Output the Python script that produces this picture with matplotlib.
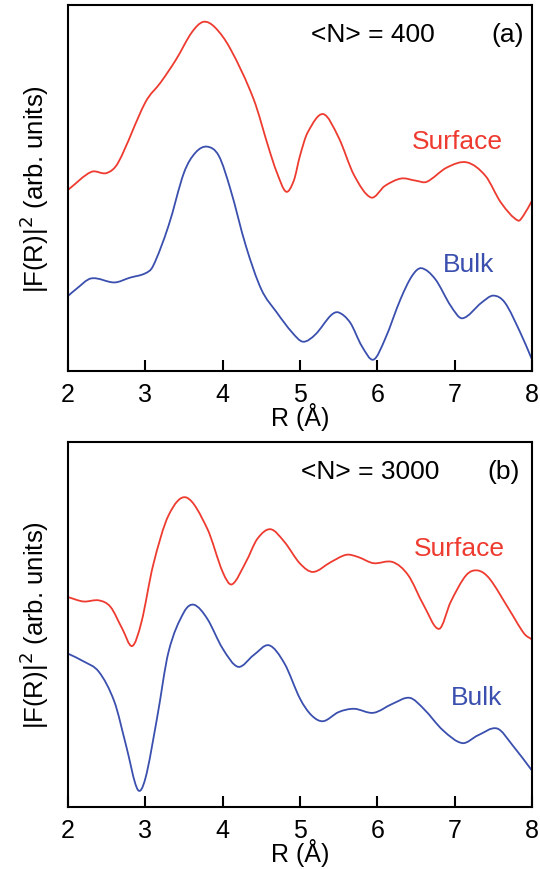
import matplotlib
matplotlib.use("Agg")
import matplotlib.pyplot as plt
from matplotlib.path import Path
from matplotlib.patches import PathPatch

plt.rcParams['font.family'] = ['Liberation Sans', 'DejaVu Sans']

# panel (a), <N> = 400
r_surf_a = [2.0, 2.3, 2.5, 2.65, 3.0, 3.2, 3.4, 3.6, 3.75, 3.9, 4.1, 4.4, 4.6, 4.7, 4.82, 4.92,
            5.0, 5.1, 5.3, 5.5, 5.7, 5.92, 6.1, 6.31, 6.5, 6.64, 6.9, 7.16, 7.4, 7.6, 7.82, 7.9, 8.0]
surf_a = [49.5, 54.4, 54.1, 57.0, 73.4, 78.9, 85.2, 92.5, 95.4, 93.9, 88.0, 74.3, 60.6, 54.3, 49.0, 52.0,
          58.8, 65.2, 70.2, 63.8, 53.5, 47.4, 50.6, 52.6, 52.0, 51.7, 55.6, 57.0, 53.3, 46.0, 41.1, 42.8, 46.5]

r_bulk_a = [2.0, 2.1, 2.3, 2.6, 2.8, 3.0, 3.1, 3.3, 3.5, 3.65, 3.8, 3.95, 4.1, 4.3, 4.5, 4.7,
            4.9, 5.04, 5.2, 5.4, 5.5, 5.65, 5.8, 5.95, 6.1, 6.3, 6.45, 6.57, 6.75, 6.95, 7.1,
            7.35, 7.5, 7.65, 7.85, 8.0]
bulk_a = [20.5, 22.3, 25.3, 24.2, 25.5, 26.7, 28.7, 39.7, 54.2, 59.7, 61.3, 58.8, 49.7, 34.2, 22.3, 16.0,
          10.5, 8.0, 10.0, 15.2, 16.0, 13.2, 6.8, 3.1, 8.7, 19.6, 26.0, 28.1, 25.1, 17.8, 14.4,
          18.7, 20.6, 18.7, 10.5, 3.2]

# panel (b), <N> = 3000
r_surf_b = [2.0, 2.2, 2.4, 2.55, 2.7, 2.83, 2.95, 3.1, 3.3, 3.53, 3.8, 4.0, 4.12, 4.3, 4.45,
            4.62, 4.8, 5.0, 5.17, 5.4, 5.6, 5.75, 5.95, 6.2, 6.4, 6.6, 6.8, 6.95, 7.15, 7.3,
            7.45, 7.7, 7.9, 8.0]
surf_b = [57.5, 56.3, 56.6, 54.8, 48.9, 44.1, 50.7, 66.2, 79.9, 84.8, 76.3, 64.4, 61.0, 67.1, 73.5,
          76.1, 72.6, 66.7, 64.4, 67.1, 69.1, 68.5, 66.8, 67.1, 63.5, 55.3, 48.8, 56.2, 63.5, 64.8,
          62.6, 54.3, 47.5, 45.9]

r_bulk_b = [2.0, 2.2, 2.4, 2.6, 2.75, 2.9, 3.0, 3.15, 3.3, 3.5, 3.63, 3.8, 4.0, 4.2, 4.4, 4.6,
            4.8, 5.0, 5.15, 5.3, 5.5, 5.7, 5.95, 6.2, 6.42, 6.6, 6.85, 7.1, 7.3, 7.55, 7.75, 8.0]
bulk_b = [42.0, 39.9, 37.0, 28.8, 16.9, 4.8, 7.8, 24.2, 42.5, 53.4, 55.4, 51.6, 43.4, 38.4, 41.6, 44.3,
          39.3, 29.7, 25.1, 23.5, 26.0, 26.9, 25.8, 28.3, 29.9, 26.9, 21.0, 17.5, 19.6, 21.5, 16.9, 10.0]

red = '#ee3b30'
blue = '#3a4fae'


def smooth_path(x, y):
    # cubic hermite through the points (slopes from neighbours), as bezier segments
    n = len(x)
    m = []
    for i in range(n):
        a = max(i - 1, 0)
        b = min(i + 1, n - 1)
        m.append((y[b] - y[a]) / (x[b] - x[a]))
    verts = [(x[0], y[0])]
    codes = [Path.MOVETO]
    for i in range(n - 1):
        h = x[i + 1] - x[i]
        verts += [(x[i] + h / 3, y[i] + m[i] * h / 3),
                  (x[i + 1] - h / 3, y[i + 1] - m[i + 1] * h / 3),
                  (x[i + 1], y[i + 1])]
        codes += [Path.CURVE4] * 3
    return Path(verts, codes)


fig = plt.figure(figsize=(5.4, 8.7), dpi=100)
ax1 = fig.add_axes([0.126, 0.5724, 0.859, 0.4207])
ax2 = fig.add_axes([0.126, 0.0713, 0.859, 0.4195])

panels = [
    (ax1, r_surf_a, surf_a, r_bulk_a, bulk_a, '<N> = 400', '(a)', (0.658, 0.921), (0.948, 0.921),
     (0.839, 0.628), (0.863, 0.292)),
    (ax2, r_surf_b, surf_b, r_bulk_b, bulk_b, '<N> = 3000', '(b)', (0.651, 0.921), (0.939, 0.921),
     (0.843, 0.710), (0.880, 0.301)),
]

for ax, rs, s, rb, b, ntxt, lab, npos, lpos, spos, bpos in panels:
    ax.add_patch(PathPatch(smooth_path(rs, s), fill=False, edgecolor=red, lw=1.3))
    ax.add_patch(PathPatch(smooth_path(rb, b), fill=False, edgecolor=blue, lw=1.3))
    ax.set_xlim(2, 8)
    ax.set_ylim(0, 100)
    ax.set_yticks([])
    ax.set_xticks([2, 3, 4, 5, 6, 7, 8])
    ax.tick_params(axis='x', direction='in', length=8, width=1.5, labelsize=18, pad=8)
    for sp in ax.spines.values():
        sp.set_linewidth(1.5)
    ax.set_xlabel('R (Å)', fontsize=18, labelpad=-3)
    ax.set_ylabel('|F(R)|$^2$ (arb. units)', fontsize=18.5, labelpad=12)
    ax.text(npos[0], npos[1], ntxt, transform=ax.transAxes, fontsize=19, ha='center', va='center')
    ax.text(lpos[0], lpos[1], lab, transform=ax.transAxes, fontsize=19, ha='center', va='center')
    ax.text(spos[0], spos[1], 'Surface', transform=ax.transAxes, fontsize=19, color=red,
            ha='center', va='center')
    ax.text(bpos[0], bpos[1], 'Bulk', transform=ax.transAxes, fontsize=19, color=blue,
            ha='center', va='center')

plt.savefig('out.png', dpi=100)
